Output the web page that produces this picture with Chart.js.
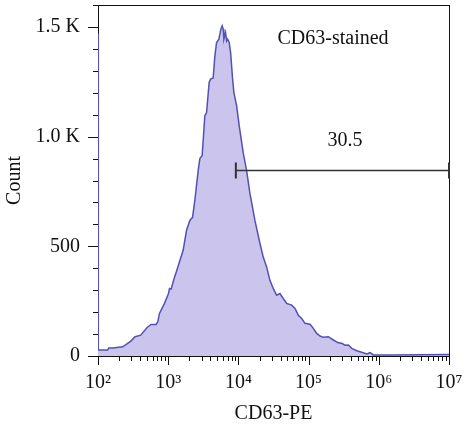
<!DOCTYPE html>
<html>
<head>
<meta charset="utf-8">
<script src="https://cdn.jsdelivr.net/npm/chart.js@4.4.1/dist/chart.umd.min.js"></script>
<style>
  html, body { margin: 0; padding: 0; background: #fff; }
  #wrap { width: 464px; height: 429px; }
</style>
</head>
<body>
<div id="wrap"><canvas id="hist"></canvas></div>
<script>
// CD63-PE fluorescence (x) and event count (y)
const fluor = [100, 101, 137, 142, 162, 225, 293, 337, 406, 500, 570, 672, 711, 751, 885,
  1010, 1044, 1100, 1202, 1327, 1632, 1825, 2033, 2222, 2396, 2672, 2825, 3047, 3328, 3519,
  3831, 4011, 4372, 4622, 4887, 5272, 5627, 5875, 6070, 6209, 6566, 6788, 7015, 7394, 7745,
  8268, 8630, 9425, 10260, 11700, 13090, 14590, 17190, 20260, 22580, 25240, 28120, 31350,
  35060, 39080, 43550, 48700, 57430, 64020, 71370, 79760, 88900, 104800, 116800, 130500,
  145500, 162200, 191100, 225100, 265300, 296500, 330500, 368400, 411800, 485300, 571600,
  674200, 751500, 837600, 1450000, 10000000];
const counts = [1470, 27, 27, 36, 36, 42, 68, 88, 95, 130, 144, 144, 156, 194, 240,
  285, 308, 305, 349, 391, 482, 573, 618, 632, 709, 845, 900, 914, 1095, 1110,
  1247, 1262, 1267, 1368, 1429, 1444, 1490, 1505, 1490, 1444, 1474, 1436, 1444, 1429, 1383,
  1262, 1201, 1141, 1050, 927, 845, 741, 618, 514, 451, 406, 345, 308,
  277, 285, 262, 240, 232, 217, 186, 171, 149, 145, 126,
  103, 91, 85, 88, 73, 60, 58, 49, 50, 35, 24,
  17, 9, 15, 5, 5, 7];

// axis ticks
const xDecades = [2, 3, 4, 5, 6, 7];
const yMajorLabels = { 0: '0', 500: '500', 1000: '1.0 K', 1500: '1.5 K' };

// gate marker and its label
const gateFrom = 9200, gateTo = 10000000, gateLevel = 850;
const gateLabel = '30.5';
const gateLabelAt = { x: 330000, y: 980 };
const sampleLabel = 'CD63-stained';
const sampleLabelAt = { x: 223000, y: 1445 };

const sup = { 2: '\u00b2', 3: '\u00b3', 4: '\u2074', 5: '\u2075', 6: '\u2076', 7: '\u2077' };
const FONT = '"Liberation Serif", "Times New Roman", serif';
const INK = '#111';

Chart.defaults.font.family = FONT;
Chart.defaults.font.size = 20;
Chart.defaults.color = INK;

function isDecade(v) {
    const l = Math.log10(v);
    return Math.abs(l - Math.round(l)) < 1e-9;
}

// drop the room Chart.js keeps for overhanging tick labels
function fixBox(s, size) {
    s.paddingLeft = s.paddingRight = s.paddingTop = s.paddingBottom = 0;
    if (s.isHorizontal()) s.height = size; else s.width = size;
}

// frame, tick marks, gate and the texts
const marks = {
    id: 'marks',
    beforeDatasetsDraw(chart) {
        const { ctx, chartArea: a, scales: { x, y } } = chart;
        ctx.save();
        ctx.strokeStyle = INK;
        ctx.lineWidth = 1;
        ctx.strokeRect(Math.round(a.left) + 0.5, Math.round(a.top) + 0.5,
            Math.round(a.right - a.left), Math.round(a.bottom - a.top));
        ctx.beginPath();
        y.ticks.forEach(t => {
            const py = Math.round(y.getPixelForValue(t.value)) + 0.5;
            const len = t.value % 500 === 0 ? 10 : 5;
            ctx.moveTo(a.left - len, py);
            ctx.lineTo(a.left, py);
        });
        x.ticks.forEach(t => {
            const px = Math.round(x.getPixelForValue(t.value)) + 0.5;
            const len = isDecade(t.value) ? 9 : 5;
            ctx.moveTo(px, a.bottom);
            ctx.lineTo(px, a.bottom + len);
        });
        ctx.stroke();
        ctx.restore();
    },
    afterDatasetsDraw(chart) {
        const { ctx, scales: { x, y } } = chart;
        const x0 = x.getPixelForValue(gateFrom);
        const x1 = x.getPixelForValue(gateTo);
        const gy = Math.round(y.getPixelForValue(gateLevel)) + 0.5;
        ctx.save();
        ctx.strokeStyle = '#333';
        ctx.lineWidth = 1.3;
        ctx.beginPath();
        ctx.moveTo(x0, gy); ctx.lineTo(x1, gy);
        ctx.stroke();
        ctx.lineWidth = 2;
        ctx.beginPath();
        ctx.moveTo(x0, gy - 8); ctx.lineTo(x0, gy + 8);
        ctx.moveTo(x1, gy - 8); ctx.lineTo(x1, gy + 8);
        ctx.stroke();

        ctx.fillStyle = INK;
        ctx.font = '20px ' + FONT;
        ctx.textAlign = 'center';
        ctx.textBaseline = 'middle';
        ctx.fillText(gateLabel, x.getPixelForValue(gateLabelAt.x), y.getPixelForValue(gateLabelAt.y));
        ctx.fillText(sampleLabel, x.getPixelForValue(sampleLabelAt.x), y.getPixelForValue(sampleLabelAt.y));
        ctx.restore();
    }
};

new Chart(document.getElementById('hist'), {
    type: 'line',
    data: {
        datasets: [{
            data: fluor.map((v, i) => ({ x: v, y: counts[i] })),
            borderColor: '#5451b4',
            backgroundColor: '#cbc4ed',
            borderWidth: 1.5,
            fill: 'origin',
            tension: 0,
            pointRadius: 0
        }]
    },
    options: {
        responsive: true,
        maintainAspectRatio: false,
        animation: false,
        layout: { padding: { top: 5, right: 15, left: 0, bottom: 0 } },
        plugins: { legend: { display: false }, tooltip: { enabled: false } },
        scales: {
            x: {
                type: 'logarithmic',
                min: 100,
                max: 10000000,
                afterBuildTicks: s => {
                    const t = [];
                    xDecades.forEach(e => {
                        if (e === 7) { t.push({ value: 1e7 }); return; }
                        for (let m = 1; m <= 9; m++) t.push({ value: m * Math.pow(10, e) });
                    });
                    s.ticks = t;
                },
                afterFit: s => fixBox(s, 73),
                grid: { display: false, drawTicks: false },
                border: { display: false },
                ticks: {
                    autoSkip: false,
                    maxRotation: 0,
                    padding: 15,
                    callback: v => isDecade(v) ? '10' + sup[Math.round(Math.log10(v))] : ''
                },
                title: { display: true, text: 'CD63-PE', padding: { top: 0, bottom: 3 } }
            },
            y: {
                min: 0,
                max: 1600,
                afterFit: s => fixBox(s, 98),
                grid: { display: false, drawTicks: false },
                border: { display: false },
                ticks: {
                    stepSize: 100,
                    autoSkip: false,
                    padding: 18,
                    callback: v => yMajorLabels[v] !== undefined ? yMajorLabels[v] : ''
                },
                title: { display: true, text: 'Count', padding: { top: 3, bottom: 0 } }
            }
        }
    },
    plugins: [marks]
});
</script>
</body>
</html>
